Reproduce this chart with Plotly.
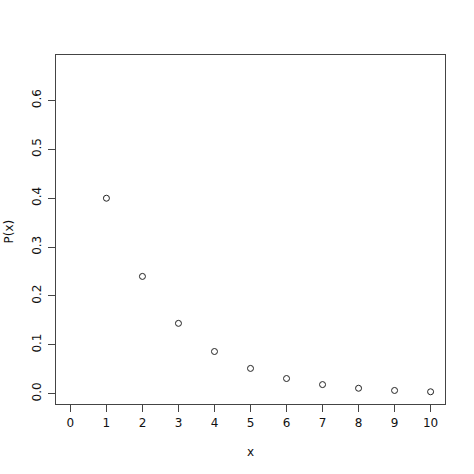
import plotly.graph_objects as go

x_vals = [1, 2, 3, 4, 5, 6, 7, 8, 9, 10]
p_vals = [0.400, 0.240, 0.144, 0.0864, 0.0518, 0.0311, 0.0187, 0.0112, 0.0067, 0.0040]
x_ticks = list(range(0, 11))
y_ticks = [0.0, 0.1, 0.2, 0.3, 0.4, 0.5, 0.6]
y_tick_labels = ["0.0", "0.1", "0.2", "0.3", "0.4", "0.5", "0.6"]

fig = go.Figure()
fig.add_trace(go.Scatter(
    x=x_vals, y=p_vals, mode="markers",
    marker=dict(symbol="circle-open", size=6, color="#222222", line=dict(width=1)),
    showlegend=False,
))

font = dict(family="DejaVu Sans", size=12, color="#111111")
fig.update_layout(
    width=474, height=474,
    margin=dict(l=56, r=29, t=55, b=70),
    paper_bgcolor="white", plot_bgcolor="white",
    font=font,
)
fig.update_xaxes(
    range=[-0.4, 10.4], tickmode="array", tickvals=x_ticks,
    ticks="outside", ticklen=7, tickwidth=1, tickcolor="#444444",
    ticklabelstandoff=1,
    showline=True, linecolor="#444444", linewidth=1, mirror=True,
    showgrid=False, zeroline=False, automargin=False,
)
fig.update_yaxes(
    range=[-0.021, 0.693], tickmode="array", tickvals=y_ticks, ticktext=y_tick_labels,
    tickangle=-90,
    ticks="outside", ticklen=7, tickwidth=1, tickcolor="#444444",
    ticklabelstandoff=2,
    showline=True, linecolor="#444444", linewidth=1, mirror=True,
    showgrid=False, zeroline=False, automargin=False,
)
fig.add_annotation(text="x", xref="paper", yref="paper", x=0.5, y=0,
                   xanchor="center", yanchor="middle", yshift=-48,
                   showarrow=False, font=font)
fig.add_annotation(text="P(x)", xref="paper", yref="paper", x=0, y=0.5,
                   xanchor="center", yanchor="middle", xshift=-48, yshift=-2,
                   textangle=-90, showarrow=False, font=font)
fig.write_html("out.html", config={"displayModeBar": False},
               post_script="document.body.style.margin='0';")
